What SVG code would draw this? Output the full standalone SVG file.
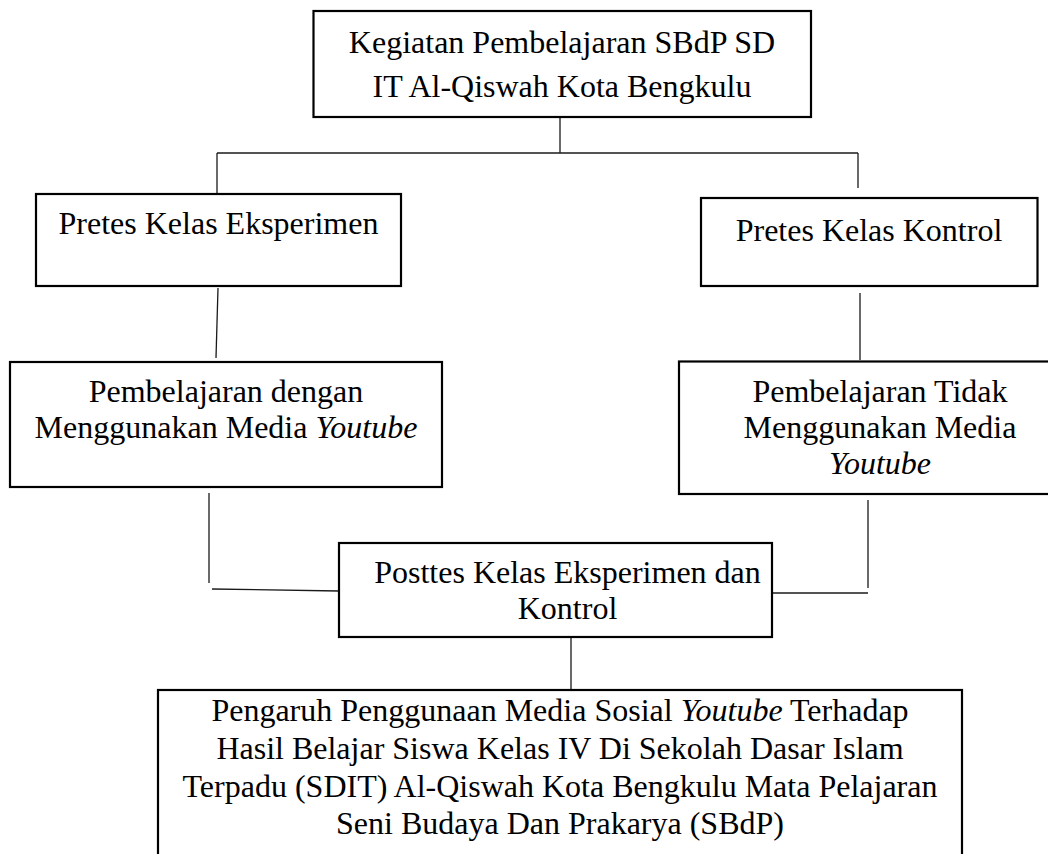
<svg xmlns="http://www.w3.org/2000/svg" width="1048" height="854" viewBox="0 0 1048 854">
<style>
.box{fill:#fff;stroke:#000;stroke-width:2.2}
.t{font-family:"Liberation Serif","Times New Roman",serif;font-size:32px;fill:#000;text-anchor:middle}
.i{font-style:italic}
.c{stroke:#1a1a1a;stroke-width:1.3;fill:none}
</style>
<rect width="1048" height="854" fill="#fff"/>
<g id="connectors">
<line class="c" x1="560" y1="118" x2="560" y2="153"/>
<line class="c" x1="217" y1="153" x2="858" y2="153"/>
<line class="c" x1="217" y1="153" x2="217" y2="193"/>
<line class="c" x1="858" y1="153" x2="858" y2="188"/>
<line class="c" x1="218" y1="288" x2="216" y2="358"/>
<line class="c" x1="860" y1="293" x2="860" y2="360"/>
<line class="c" x1="209" y1="493" x2="209" y2="583"/>
<line class="c" x1="212" y1="589" x2="339" y2="591"/>
<line class="c" x1="868" y1="500" x2="868" y2="588"/>
<line class="c" x1="772" y1="593" x2="868" y2="593"/>
<line class="c" x1="571" y1="638" x2="571" y2="690"/>
</g>
<g id="n-top">
<rect class="box" x="313.5" y="11" width="497.5" height="106"/>
<text class="t" x="562" y="52.5">Kegiatan Pembelajaran SBdP SD</text>
<text class="t" x="562" y="96.5">IT Al-Qiswah Kota Bengkulu</text>
</g>
<g id="n-pretes-eksperimen">
<rect class="box" x="36" y="194" width="365" height="92"/>
<text class="t" x="218.5" y="234">Pretes Kelas Eksperimen</text>
</g>
<g id="n-pretes-kontrol">
<rect class="box" x="701" y="198" width="336.5" height="88"/>
<text class="t" x="869" y="241">Pretes Kelas Kontrol</text>
</g>
<g id="n-pembelajaran-dengan">
<rect class="box" x="10" y="362" width="432" height="125"/>
<text class="t" x="226" y="402">Pembelajaran dengan</text>
<text class="t" x="226" y="438">Menggunakan Media <tspan class="i">Youtube</tspan></text>
</g>
<g id="n-pembelajaran-tidak">
<rect class="box" x="679" y="361.5" width="402" height="132.5"/>
<text class="t" x="880" y="402">Pembelajaran Tidak</text>
<text class="t" x="880" y="437.5">Menggunakan Media</text>
<text class="t i" x="880" y="474">Youtube</text>
</g>
<g id="n-posttes">
<rect class="box" x="339" y="543" width="433" height="94"/>
<text class="t" x="567.5" y="583">Posttes Kelas Eksperimen dan</text>
<text class="t" x="567.5" y="619">Kontrol</text>
</g>
<g id="n-pengaruh">
<rect class="box" x="158" y="690" width="804" height="220"/>
<text class="t" x="560" y="721">Pengaruh Penggunaan Media Sosial <tspan class="i">Youtube</tspan> Terhadap</text>
<text class="t" x="560" y="758.5">Hasil Belajar Siswa Kelas IV Di Sekolah Dasar Islam</text>
<text class="t" x="560" y="796.5">Terpadu (SDIT) Al-Qiswah Kota Bengkulu Mata Pelajaran</text>
<text class="t" x="560" y="834">Seni Budaya Dan Prakarya (SBdP)</text>
</g>
</svg>
